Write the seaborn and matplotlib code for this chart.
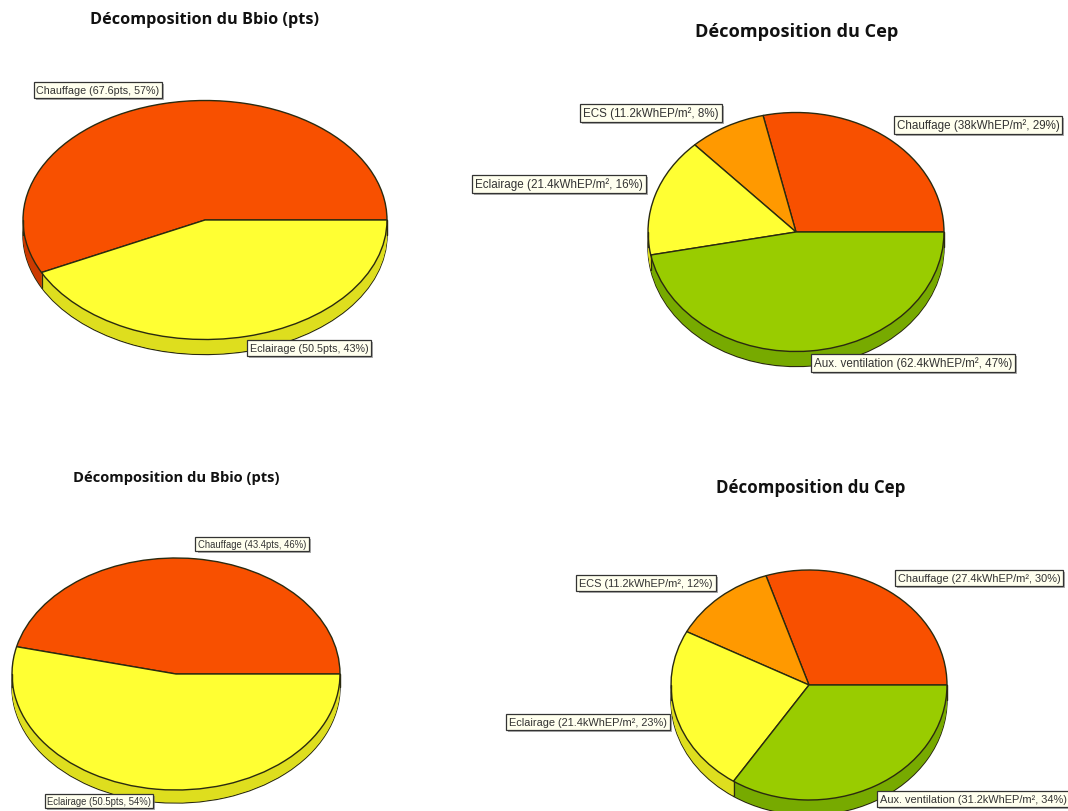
import numpy as np
import seaborn as sns
import matplotlib.pyplot as plt
import matplotlib.patheffects as pe

sns.set_theme(style='white')
plt.rcParams['font.family'] = ['Liberation Sans', 'DejaVu Sans']

titles = ['Décomposition du Bbio (pts)', 'Décomposition du Cep',
          'Décomposition du Bbio (pts)', 'Décomposition du Cep']
bbio_top = [67.6, 50.5]
cep_top = [38, 11.2, 21.4, 62.4]
bbio_bottom = [43.4, 50.5]
cep_bottom = [27.4, 11.2, 21.4, 31.2]
bbio_names = ['Chauffage', 'Eclairage']
cep_names = ['Chauffage', 'ECS', 'Eclairage', 'Aux. ventilation']
labels_1 = ['Chauffage (67.6pts, 57%)', 'Eclairage (50.5pts, 43%)']
labels_2 = ['Chauffage (38kWhEP/m², 29%)', 'ECS (11.2kWhEP/m², 8%)',
            'Eclairage (21.4kWhEP/m², 16%)', 'Aux. ventilation (62.4kWhEP/m², 47%)']
labels_3 = ['Chauffage (43.4pts, 46%)', 'Eclairage (50.5pts, 54%)']
labels_4 = ['Chauffage (27.4kWhEP/m², 30%)', 'ECS (11.2kWhEP/m², 12%)',
            'Eclairage (21.4kWhEP/m², 23%)', 'Aux. ventilation (31.2kWhEP/m², 34%)']

top_colors = {'Chauffage': '#F85000', 'ECS': '#FF9900', 'Eclairage': '#FFFF33', 'Aux. ventilation': '#99CC00'}
wall_colors = {'Chauffage': '#CC3A00', 'ECS': '#CC7A00', 'Eclairage': '#DEDE1E', 'Aux. ventilation': '#77AA00'}

W, H = 1068, 812
fig = plt.figure(figsize=(W / 100, H / 100), dpi=100, facecolor='white')

# layout in pixels: centre x, centre y, radius x, radius y, depth, label font size
layout = [
    (205, 221, 182, 119.5, 15, 7.75),
    (796, 233, 148, 119.5, 15, 8.35),
    (176, 675, 164, 116, 13, 6.85),
    (809, 686, 138, 115, 15, 7.9),
]
title_pos = [(205, 20, 11.7), (797, 32, 13.1), (176, 478, 10.6), (811, 488, 12.2)]
# label boxes in pixels: centre x, centre y
box_pos = [
    [(98, 91), (309, 349)],
    [(978, 126), (651, 114), (559, 185), (913, 364)],
    [(252, 545), (99, 802)],
    [(979, 579), (646, 584), (588, 723), (973, 800)],
]
all_values = [bbio_top, cep_top, bbio_bottom, cep_bottom]
all_names = [bbio_names, cep_names, bbio_names, cep_names]
all_labels = [labels_1, labels_2, labels_3, labels_4]

for i in range(4):
    cx, cy, rx, ry, depth, fsize = layout[i]
    values = all_values[i]
    names = all_names[i]
    dy = depth / ry

    ax = fig.add_axes([(cx - rx) / W, 1 - (cy + ry + depth) / H, 2 * rx / W, (2 * ry + depth) / H])
    edge = {'edgecolor': '#2a2a10', 'linewidth': 1.0}

    # side wall: dark pie at the bottom, then filled copies up to the top face
    ax.pie(values, colors=[wall_colors[n] for n in names], startangle=0, counterclock=True,
           center=(0, -dy), wedgeprops=edge)
    for off in np.linspace(dy * 0.97, 0.01, 14):
        ax.pie(values, colors=[wall_colors[n] for n in names], startangle=0,
               center=(0, -off), wedgeprops={'linewidth': 0})

    # vertical edges where slices meet on the front of the wall
    angles = np.cumsum(values) / np.sum(values) * 2 * np.pi
    for a in angles:
        if np.sin(a) < -0.01:
            ax.plot([np.cos(a)] * 2, [np.sin(a), np.sin(a) - dy], color='#2a2a10', lw=0.9)
    ax.plot([-1, -1], [0, -dy], color='#2a2a10', lw=1.0)
    ax.plot([1, 1], [0, -dy], color='#2a2a10', lw=1.0)

    ax.pie(values, colors=[top_colors[n] for n in names], startangle=0, wedgeprops=edge)

    ax.set_aspect('auto')
    ax.set_xlim(-1, 1)
    ax.set_ylim(-1 - dy, 1)
    ax.axis('off')
    for art in ax.get_children():
        art.set_clip_on(False)

    tx, ty, ts = title_pos[i]
    fig.text(tx / W, 1 - ty / H, titles[i], ha='center', va='center', fontsize=ts,
             fontweight='bold', color='#111111', family=['Open Sans', 'DejaVu Sans'])

    for lab, (bx, by) in zip(all_labels[i], box_pos[i]):
        t = fig.text(bx / W, 1 - by / H, lab, ha='center', va='center', fontsize=fsize, color='#333333',
                     zorder=10, bbox=dict(boxstyle='square,pad=0.25', facecolor='#FFFFEE',
                                          edgecolor='#333333', linewidth=0.9))
        t.get_bbox_patch().set_path_effects([
            pe.SimplePatchShadow(offset=(1.5, -1.5), shadow_rgbFace='#777777', alpha=0.6),
            pe.Normal()])

fig.savefig('out.png', dpi=100)
